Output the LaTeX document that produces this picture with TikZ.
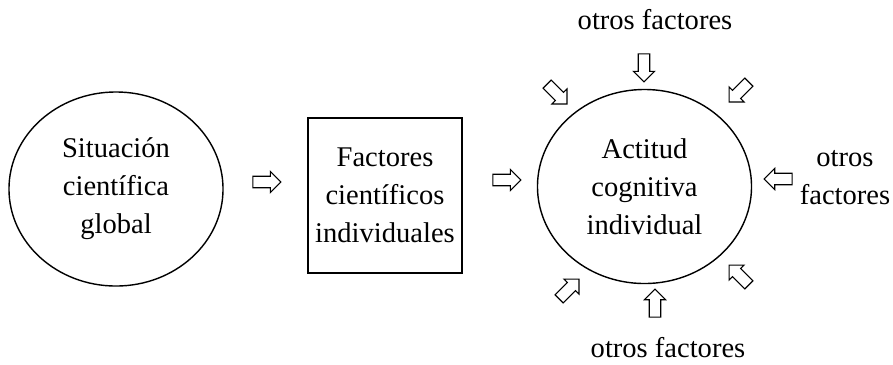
\documentclass[tikz,border=0pt]{standalone}
\usepackage{fontspec}
\setmainfont{Liberation Serif}
\usetikzlibrary{shapes.geometric,shapes.arrows}

\begin{document}
\begin{tikzpicture}[x=0.025cm, y=-0.025cm,
    txt/.style = {font=\fontsize{20.3}{27}\selectfont, align=center},
    blob/.style = {draw, ellipse, line width=1pt, minimum width=5.35cm, minimum height=4.85cm, txt},
    box/.style = {draw, rectangle, line width=1pt, minimum width=3.85cm, minimum height=3.875cm, txt},
    arr/.style = {draw, single arrow, line width=0.8pt, inner xsep=0pt, inner ysep=0.13cm,
                  minimum width=0.5cm, minimum height=0.7cm, single arrow head extend=0.12cm}] 
	\useasboundingbox (0,0) rectangle (893,364);
	\node[blob] (sit) at (116,189) {Situación\\científica\\global};
	\node[box] (fac) at (385,195.5) {Factores\\científicos\\individuales};
	\node[blob] (act) at (644.5,186.5) {Actitud\\cognitiva\\individual};
	\node[arr] (a1) at (264,182) {};
	\node[arr] (a2) at (504,180) {};
	\node[arr, rotate=-90] (n) at (644,65) {};
	\node[arr, rotate=-45] (nw) at (555,92) {};
	\node[arr, rotate=-135] (ne) at (741,90) {};
	\node[arr, rotate=180] (e) at (781,179) {};
	\node[arr, rotate=135] (se) at (741,277) {};
	\node[arr, rotate=90] (s) at (655,306) {};
	\node[arr, rotate=45] (sw) at (567,291) {};
	\node[txt, anchor=base] (otn) at (655,29) {otros factores};
	\node[txt] (ote) at (845,178) {otros\\factores};
	\node[txt, anchor=base] (ots) at (668,357) {otros factores};
\end{tikzpicture}
\end{document}
